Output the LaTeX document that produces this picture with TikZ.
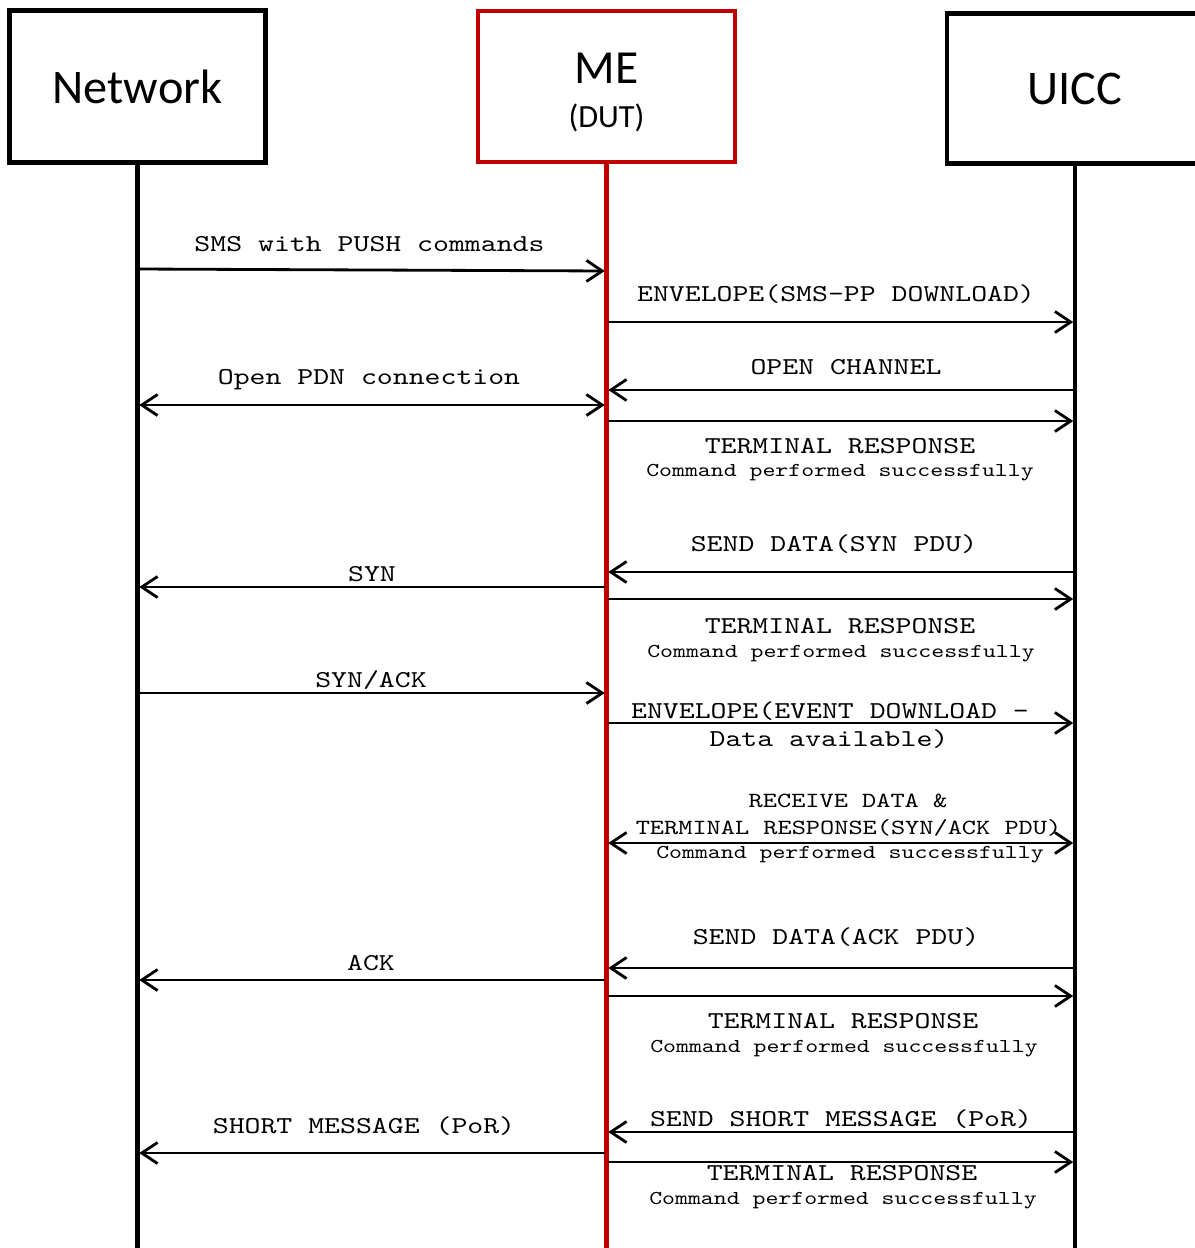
\documentclass[tikz,border=0pt]{standalone}
\usepackage{fontspec}
\setmainfont{Carlito}
\newfontfamily\msgfont[FakeStretch=1.25]{lmmono10-regular.otf}
\usetikzlibrary{arrows.meta}
\definecolor{dutred}{HTML}{C00000}

\begin{document}
\begin{tikzpicture}[x=0.02cm,y=-0.02cm,
        >={Straight Barb[length=9pt,width=12pt]},
        actor/.style={draw,line width=2.8pt,minimum width=5.12cm,minimum height=3.04cm,font=\fontsize{27.5}{32}\selectfont},
        life/.style={line width=2.8pt},
        msg/.style={line width=1.6pt,shorten >=1pt,shorten <=1pt},
        biglbl/.style={anchor=base,inner sep=0pt,font=\msgfont\fontsize{13.8}{16}\selectfont},
        medlbl/.style={anchor=base,inner sep=0pt,font=\msgfont\fontsize{12.3}{15}\selectfont},
        smalllbl/.style={anchor=base,inner sep=0pt,font=\msgfont\fontsize{11.2}{14}\selectfont}]

    \useasboundingbox (0,0) rectangle (1195,1248);

    % participants
    \node[actor] (net) at (137.5,86.5) {Network};
    \node[actor,draw=dutred,line width=2.5pt,minimum width=5.13cm,minimum height=3.01cm] (me) at (606.5,86.5) {};
    \node[anchor=base,font=\fontsize{27}{32}\selectfont] (metxt) at (606.5,83) {ME};
    \node[anchor=base,font=\fontsize{18.4}{22}\selectfont] (dut) at (606.5,127) {(DUT)};
    \node[actor,minimum height=3.0cm] (uicc) at (1075,88.5) {UICC};

    % lifelines
    \coordinate (netend) at (137.5,1252);
    \coordinate (meend) at (606.5,1252);
    \coordinate (uiccend) at (1075,1252);
    \draw[life] (net) -- (netend);
    \draw[life,dutred,line width=2.5pt] (me) -- (meend);
    \draw[life] (uicc) -- (uiccend);

    % messages
    \draw[msg,->] (net |- 0,269) -- (me |- 0,271);
    \draw[msg,->] (me |- 0,322) -- (uicc |- 0,322);
    \draw[msg,->] (uicc |- 0,390) -- (me |- 0,390);
    \draw[msg,<->] (net |- 0,405) -- (me |- 0,405);
    \draw[msg,->] (me |- 0,421) -- (uicc |- 0,421);
    \draw[msg,->] (uicc |- 0,572) -- (me |- 0,572);
    \draw[msg,->] (me |- 0,587) -- (net |- 0,587);
    \draw[msg,->] (me |- 0,599) -- (uicc |- 0,599);
    \draw[msg,->] (net |- 0,693) -- (me |- 0,693);
    \draw[msg,->] (me |- 0,723) -- (uicc |- 0,723);
    \draw[msg,<->] (me |- 0,843) -- (uicc |- 0,843);
    \draw[msg,->] (uicc |- 0,968) -- (me |- 0,968);
    \draw[msg,->] (me |- 0,980) -- (net |- 0,980);
    \draw[msg,->] (me |- 0,996) -- (uicc |- 0,996);
    \draw[msg,->] (uicc |- 0,1132) -- (me |- 0,1132);
    \draw[msg,->] (me |- 0,1153) -- (net |- 0,1153);
    \draw[msg,->] (me |- 0,1162) -- (uicc |- 0,1162);

    % labels
    \node[biglbl] (sms) at (369.5,251) {SMS with PUSH commands};
    \node[biglbl] (envsms) at (836,301) {ENVELOPE(SMS-PP DOWNLOAD)};
    \node[biglbl] (open) at (846,374) {OPEN CHANNEL};
    \node[biglbl] (pdn) at (369,384) {Open PDN connection};
    \node[biglbl] (tr1) at (840,453) {TERMINAL RESPONSE};
    \node[smalllbl] (ok1) at (840,476) {Command performed successfully};
    \node[biglbl] (sendsyn) at (834,551) {SEND DATA(SYN PDU)};
    \node[biglbl] (syn) at (372,581) {SYN};
    \node[biglbl] (tr2) at (840,633) {TERMINAL RESPONSE};
    \node[smalllbl] (ok2) at (841,657) {Command performed successfully};
    \node[biglbl] (synack) at (371,687) {SYN/ACK};
    \node[biglbl] (envevt) at (830,718) {ENVELOPE(EVENT DOWNLOAD –};
    \node[biglbl] (avail) at (829,746) {Data available)};
    \node[medlbl] (recv) at (848,807) {RECEIVE DATA \&};
    \node[medlbl] (tr3) at (848.5,834) {TERMINAL RESPONSE(SYN/ACK PDU)};
    \node[smalllbl] (ok3) at (850,858) {Command performed successfully};
    \node[biglbl] (sendack) at (836,944) {SEND DATA(ACK PDU)};
    \node[biglbl] (ack) at (371,970) {ACK};
    \node[biglbl] (tr4) at (843,1028) {TERMINAL RESPONSE};
    \node[smalllbl] (ok4) at (844,1052) {Command performed successfully};
    \node[biglbl] (sendsm) at (841,1126) {SEND SHORT MESSAGE (PoR)};
    \node[biglbl] (sm) at (364,1133) {SHORT MESSAGE (PoR)};
    \node[biglbl] (tr5) at (842,1180) {TERMINAL RESPONSE};
    \node[smalllbl] (ok5) at (843,1204) {Command performed successfully};

\end{tikzpicture}
\end{document}
